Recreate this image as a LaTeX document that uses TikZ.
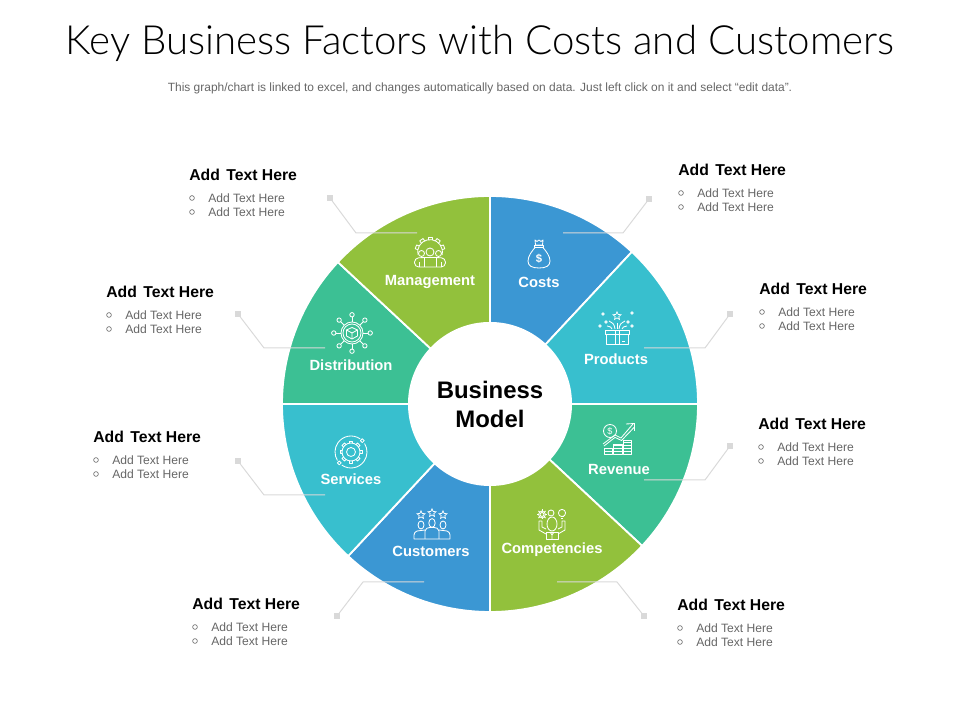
\documentclass[tikz,border=0pt]{standalone}
\usepackage{fontspec}
\setmainfont{Liberation Sans}
\newfontfamily\titlefont{Lato Light}
\usetikzlibrary{shapes.geometric}
\definecolor{costblue}{HTML}{3B97D3}
\definecolor{prodteal}{HTML}{38BFCE}
\definecolor{revgreen}{HTML}{3CC094}
\definecolor{complime}{HTML}{92C13C}
\definecolor{leadgray}{HTML}{D9D9D9}
\tikzset{
	icon/.style={draw=white,line width=0.6pt,line join=round},
	tinystar/.style={star,star points=5,star point ratio=2.2,draw=white,line width=0.5pt,minimum size=6pt,inner sep=0pt},
	seglabel/.style={text=white,font=\fontsize{10.5}{12}\selectfont\bfseries},
	heading/.style={anchor=west,inner sep=0pt,font=\fontsize{11.2}{13}\selectfont\bfseries},
	item/.style={anchor=west,inner sep=0pt,text=black!60,font=\fontsize{8.6}{10}\selectfont},
	bullet/.style={circle,draw=black!65,line width=0.4pt,inner sep=0pt,minimum size=3.4pt},
	endsq/.style={rectangle,fill=leadgray,inner sep=0pt,minimum size=3.6pt},
	lead/.style={draw=leadgray,line width=0.7pt},
	costsicon/.pic={
		\draw[icon] (-4,14) -- (-2,12.5) -- (0,14) -- (2,12.5) -- (4,14) -- (3.5,9) -- (-3.5,9) -- cycle;
		\draw[icon] (-4.5,9) rectangle (4.5,7);
		\draw[icon] (-3.5,7) .. controls (-7,3) and (-11,-2) .. (-11,-7) .. controls (-11,-12) and (-7,-14) .. (0,-14) .. controls (7,-14) and (11,-12) .. (11,-7) .. controls (11,-2) and (7,3) .. (3.5,7);
		\node[text=white,inner sep=0pt,font=\fontsize{8}{8}\selectfont\bfseries] (dollar) at (0,-5) {\$};
	},
	productsicon/.pic={
		\draw[icon] (-11,-17) rectangle (11,-7.5);
		\draw[icon] (-12,-7.5) rectangle (12,-3.5);
		\draw[icon] (-2,-17) -- (-2,-3.5) (2,-17) -- (2,-3.5) (5,-14) -- (8,-14);
		\draw[icon] (-2,-2) .. controls (-3,3) .. (-8,6);
		\draw[icon] (2,-2) .. controls (3,3) .. (8,6);
		\draw[icon] (0,-2) -- (0,4);
		\draw[icon] (-5,-2) .. controls (-6,0) .. (-10,1);
		\draw[icon] (5,-2) .. controls (6,0) .. (10,1);
		\node[tinystar] (topstar) at (0,11) {};
		\foreach \px/\py in {-14/13,15/14,-17/1,15/1,-11/5,11/5}{
			\draw[icon] (\px,\py-1.3) -- (\px+1.3,\py) -- (\px,\py+1.3) -- (\px-1.3,\py) -- cycle;
		}
	},
	revenueicon/.pic={
		\draw[icon] (-9,8) circle (6.5);
		\node[text=white,inner sep=0pt,font=\fontsize{6.5}{7}\selectfont] (coin) at (-9,8) {\$};
		\draw[icon] (-16,-5) -- (-4,4) -- (2,1) -- (14,15);
		\draw[icon] (-15,-7) -- (-4,1.6) -- (2.5,-1.5) -- (15.5,12);
		\draw[icon] (7,15) -- (15.5,15.5) -- (15.5,8);
		\foreach \cx/\ct in {-15/-9,-5.3/-5,4/-1}{
			\draw[icon] (\cx,-15) rectangle (\cx+8.5,\ct);
			\foreach \cy in {-12,-9,-6,-3}{
				\ifdim \cy pt<\ct pt \draw[icon] (\cx,\cy) -- (\cx+8.5,\cy); \fi
			}
		}
	},
	compicon/.pic={
		\draw[icon] (-10,9.5) circle (2);
		\foreach \t in {0,45,...,315}{
			\draw[icon,shift={(-10,9.5)},rotate=\t] (0,3.4) -- (0,5);
		}
		\draw[icon] (-10,9.5) circle (3.4);
		\draw[icon] (-1,11) circle (3);
		\draw[icon] (10,11) circle (3.6);
		\draw[icon] (8.5,7.5) -- (11.5,7.5) (9,6) -- (11,6);
		\draw[icon] (0,0) ellipse (5 and 7);
		\draw[icon] (-6,-15.5) rectangle (6,-8);
		\draw[icon] (-2,-8) -- (0,-11) -- (2,-8) (0,-11) -- (0,-15.5);
		\draw[icon] (-6,-10) -- (-13,-6) -- (-13,3) -- (-10,3) -- (-10,-3) -- (-6,-5);
		\draw[icon] (6,-10) -- (13,-6) -- (13,3) -- (10,3) -- (10,-3) -- (6,-5);
	},
	custicon/.pic={
		\node[tinystar] (s1) at (-11,10) {};
		\node[tinystar] (s2) at (0,12) {};
		\node[tinystar] (s3) at (11,10) {};
		\draw[icon] (-11,0) ellipse (3 and 4);
		\draw[icon] (0,2) ellipse (3.2 and 4.4);
		\draw[icon] (11,0) ellipse (3 and 4);
		\draw[icon] (-7,-14) -- (-7,-6) .. controls (-7,-3) and (-4,-3) .. (-2,-2.5) -- (2,-2.5) .. controls (4,-3) and (7,-3) .. (7,-6) -- (7,-14);
		\draw[icon] (-7,-5) -- (-15,-6) .. controls (-17,-7) and (-18,-8) .. (-18,-10) -- (-18,-14) -- (18,-14) -- (18,-10) .. controls (18,-8) and (17,-7) .. (15,-6) -- (7,-5);
	},
	servicesicon/.pic={
		\draw[icon] (0,0) circle (4.5);
		\draw[icon] (0,0) circle (9);
		\foreach \t in {0,45,...,315}{
			\draw[icon,rotate=\t] (-1.8,8.8) -- (-1.8,11) -- (1.8,11) -- (1.8,8.8);
		}
		\draw[icon] (55:16) arc[start angle=55,end angle=212,radius=16];
		\draw[icon] (235:16) arc[start angle=235,end angle=392,radius=16];
		\draw[icon] (45:16) circle (1.9);
		\draw[icon] (223:16) circle (1.9);
	},
	disticon/.pic={
		\draw[icon] (0,0) circle (11);
		\draw[icon] (0,0) circle (9);
		\draw[icon] (0,5.5) -- (5.5,3) -- (5.5,-3) -- (0,-6) -- (-5.5,-3) -- (-5.5,3) -- cycle;
		\draw[icon] (-5.5,3) -- (0,0) -- (5.5,3) (0,0) -- (0,-6);
		\foreach \t in {0,45,...,315}{
			\draw[icon,rotate=\t] (11,0) -- (16,0);
			\draw[icon,rotate=\t] (18.2,0) circle (2.2);
		}
	},
	mgmticon/.pic={
		\draw[icon] (-12,-3) arc[start angle=194,end angle=-14,radius=12.4];
		\foreach \t in {-70,-35,0,35,70}{
			\draw[icon,rotate=\t] (-2,12.2) -- (-2,15) -- (2,15) -- (2,12.2);
		}
		\draw[icon] (0,0) circle (4);
		\draw[icon] (-8.5,-1.5) circle (3);
		\draw[icon] (8.5,-1.5) circle (3);
		\draw[icon,rounded corners=3pt] (-15.5,-15) -- (-15.5,-6) -- (-6,-5.5) -- (6,-5.5) -- (15.5,-6) -- (15.5,-15) -- cycle;
		\draw[icon] (-6,-15) -- (-6,-5.5) (6,-15) -- (6,-5.5) (-11,-15) -- (-11,-10) (11,-15) -- (11,-10);
	}
}
\begin{document}
\begin{tikzpicture}[x=0.025cm,y=0.025cm]
	\useasboundingbox (0,0) rectangle (960,720);
	\node (title) at (480,677) {\titlefont\fontsize{28.6}{32}\selectfont Key Business Factors with Costs and Customers};
	\node[text=black!60,font=\fontsize{8.5}{10}\selectfont] (sub) at (480,632) {This graph/chart is linked to excel, and changes automatically based on data. Just left click on it and select “edit data”.};
	% wheel
	\coordinate (hubc) at (490,316);
	\foreach \a/\b/\col in {90/47/costblue,47/0/prodteal,0/-43/revgreen,-43/-90/complime,-90/-133/costblue,-133/-180/prodteal,180/137/revgreen,137/90/complime}{
		\fill[\col,shift={(hubc)},draw=white,line width=1.3pt] (\a:60) -- (\a:208) arc[start angle=\a,end angle=\b,radius=208] -- (\b:60) -- cycle;
	}
	\node[circle,fill=white,minimum size=164*0.7113pt,inner sep=0pt,align=center,font=\fontsize{17}{20.6}\selectfont\bfseries] (hub) at (hubc) {Business\\Model};
	% leaders
	\foreach \nm/\sx/\sy/\bx/\by/\ex in {mgmt/330/522/356/487/417,costs/649/521/623/487/563,prod/730/406/705/372/644,rev/730/274/705/240/644,comp/644/104/617/138/557,cust/337/104/363/138/424,serv/238/259/264/225/325,dist/238/406/264/372/325}{
		\node[endsq] (\nm-sq) at (\sx,\sy) {};
		\coordinate (\nm-bend) at (\bx,\by);
		\coordinate (\nm-end) at (\ex,\by);
		\draw[lead] (\nm-sq) -- (\nm-bend) -- (\nm-end);
	}
	% icons and labels
	\pic (ic1) at (539,466) {costsicon};
	\pic (ic2) at (617,393) {productsicon};
	\pic (ic3) at (619,281) {revenueicon};
	\pic (ic4) at (552,196) {compicon};
	\pic (ic5) at (432,195) {custicon};
	\pic (ic6) at (351,268) {servicesicon};
	\pic (ic7) at (352,387) {disticon};
	\pic (ic8) at (430,468) {mgmticon};
	\node[seglabel] (lcosts) at (539,438) {Costs};
	\node[seglabel] (lprod) at (616,361) {Products};
	\node[seglabel] (lrev) at (619,250) {Revenue};
	\node[seglabel] (lcomp) at (552,170) {Competencies};
	\node[seglabel] (lcust) at (431,169) {Customers};
	\node[seglabel] (lserv) at (351,241) {Services};
	\node[seglabel] (ldist) at (351,355) {Distribution};
	\node[seglabel] (lmgmt) at (430,438) {Management};
	% text blocks
	\foreach \nm/\hx/\hy in {a/189/545,b/678/550,c/759/431,d/758/296,e/677/115,f/192/116,g/93/283,h/106/428}{
		\node[heading] (\nm-head) at (\hx,\hy) {Add\kern1.5pt\ Text Here};
		\node[item] (\nm-one) at (\hx+19,\hy-23) {Add Text Here};
		\node[item] (\nm-two) at (\hx+19,\hy-37) {Add Text Here};
		\node[bullet] (\nm-bone) at (\hx+3,\hy-23) {};
		\node[bullet] (\nm-btwo) at (\hx+3,\hy-37) {};
	}
\end{tikzpicture}
\end{document}
